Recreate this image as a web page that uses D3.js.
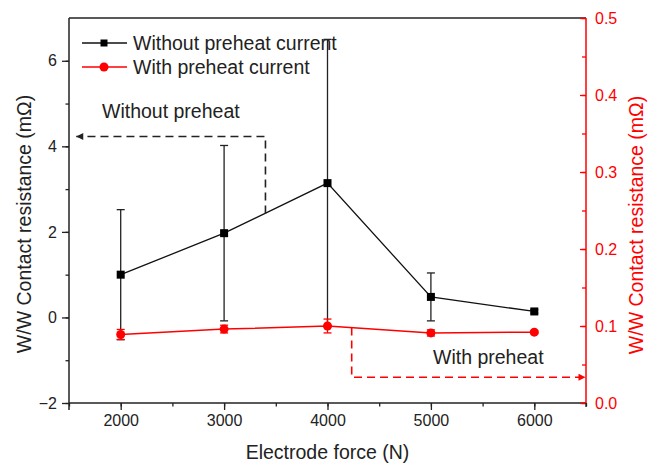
<!DOCTYPE html>
<html>
<head>
<meta charset="utf-8">
<script src="https://cdn.jsdelivr.net/npm/d3@7"></script>
<style>
  html, body { margin: 0; padding: 0; background: #fff; }
  svg { display: block; font-family: "Liberation Sans", Arial, sans-serif; }
</style>
</head>
<body>
<svg id="chart" width="655" height="463"></svg>
<script>
// Electrode force levels (N)
const forces = [2000, 3000, 4000, 5000, 6000];
// W/W contact resistance without preheat current (mΩ, left axis)
const withoutMean = [1.0, 1.97, 3.14, 0.48, 0.14];
const withoutErr  = [1.52, 2.05, 3.36, 0.56, 0.04];
// W/W contact resistance with preheat current (mΩ, right axis)
const withMean = [0.089, 0.096, 0.100, 0.091, 0.092];
const withErr  = [0.0065, 0.005, 0.009, 0.004, 0.002];
// Tick values
const xTicks = [2000, 3000, 4000, 5000, 6000];
const yLeftTicks = [-2, 0, 2, 4, 6];
const yRightTicks = [0.0, 0.1, 0.2, 0.3, 0.4, 0.5];
const seriesNames = ["Without preheat current", "With preheat current"];

const RED = "#ff0000";
const svg = d3.select("#chart");
const L = 69, R = 586, T = 18, B = 403;

const x = d3.scaleLinear().domain([1500, 6500]).range([L, R]);
const yL = d3.scaleLinear().domain([-2, 7]).range([B, T]);
const yR = d3.scaleLinear().domain([0, 0.5]).range([B, T]);

// frame line along the top
svg.append("line").attr("x1", L).attr("x2", R).attr("y1", T).attr("y2", T)
  .attr("stroke", "#222").attr("stroke-width", 1.5);

// bottom axis: major + minor ticks
const gx = svg.append("g").attr("transform", `translate(0,${B})`);
gx.call(d3.axisBottom(x).tickValues(d3.range(1500, 6501, 500)).tickSize(3.5).tickFormat(""))
  .call(g => g.select(".domain").remove())
  .call(g => g.selectAll("line").attr("stroke", "#222").attr("stroke-width", 1.3));
gx.append("g").call(d3.axisBottom(x).tickValues(xTicks).tickSize(7).tickPadding(5).tickFormat(d3.format("d")))
  .call(g => g.select(".domain").remove())
  .call(g => g.selectAll("line").attr("stroke", "#222").attr("stroke-width", 1.3))
  .call(g => g.selectAll("text").attr("font-size", 16).attr("fill", "#222").attr("font-family", "Liberation Sans, Arial, sans-serif"));
svg.append("line").attr("x1", L).attr("x2", R).attr("y1", B).attr("y2", B)
  .attr("stroke", "#222").attr("stroke-width", 1.5);

// left axis
const gl = svg.append("g").attr("transform", `translate(${L},0)`);
gl.call(d3.axisLeft(yL).tickValues(d3.range(-2, 7, 1)).tickSize(3.5).tickFormat(""))
  .call(g => g.select(".domain").remove())
  .call(g => g.selectAll("line").attr("stroke", "#222").attr("stroke-width", 1.3));
gl.append("g").call(d3.axisLeft(yL).tickValues(yLeftTicks).tickSize(7).tickPadding(5).tickFormat(d3.format("d")))
  .call(g => g.select(".domain").remove())
  .call(g => g.selectAll("line").attr("stroke", "#222").attr("stroke-width", 1.3))
  .call(g => g.selectAll("text").attr("font-size", 16).attr("fill", "#222").attr("font-family", "Liberation Sans, Arial, sans-serif"));
svg.append("line").attr("x1", L).attr("x2", L).attr("y1", T).attr("y2", B + 7)
  .attr("stroke", "#222").attr("stroke-width", 1.5);

// right axis (red, ticks pointing inward)
const gr = svg.append("g").attr("transform", `translate(${R},0)`);
gr.call(d3.axisLeft(yR).tickValues(d3.range(0, 0.501, 0.05)).tickSize(4).tickFormat(""))
  .call(g => g.select(".domain").remove())
  .call(g => g.selectAll("line").attr("stroke", RED).attr("stroke-width", 1.3));
gr.append("g").call(d3.axisLeft(yR).tickValues(yRightTicks).tickSize(6).tickFormat(""))
  .call(g => g.select(".domain").remove())
  .call(g => g.selectAll("line").attr("stroke", RED).attr("stroke-width", 1.3));
gr.append("g").call(d3.axisRight(yR).tickValues(yRightTicks).tickSize(0).tickPadding(9).tickFormat(d3.format(".1f")))
  .call(g => g.select(".domain").remove())
  .call(g => g.selectAll("text").attr("font-size", 16).attr("fill", RED).attr("font-family", "Liberation Sans, Arial, sans-serif"));
svg.append("line").attr("x1", R).attr("x2", R).attr("y1", T).attr("y2", B)
  .attr("stroke", RED).attr("stroke-width", 1.5);
// small black tick below the bottom-right corner
svg.append("line").attr("x1", R).attr("x2", R).attr("y1", B).attr("y2", B + 4)
  .attr("stroke", "#222").attr("stroke-width", 1.3);

// axis titles
svg.append("text").attr("x", (L + R) / 2).attr("y", 459).attr("text-anchor", "middle")
  .attr("font-size", 19.5).attr("fill", "#222").text("Electrode force (N)");
svg.append("text").attr("transform", "translate(31,224) rotate(-90)").attr("text-anchor", "middle")
  .attr("font-size", 19.5).attr("fill", "#222").text("W/W Contact resistance (mΩ)");
svg.append("text").attr("transform", "translate(643,225) rotate(-90)").attr("text-anchor", "middle")
  .attr("font-size", 19.5).attr("fill", RED).text("W/W Contact resistance (mΩ)");

// arrowheads
const defs = svg.append("defs");
[["arrBlack", "#222"], ["arrRed", RED]].forEach(([id, c]) => {
  defs.append("marker").attr("id", id).attr("viewBox", "0 0 10 10").attr("refX", 10).attr("refY", 5)
    .attr("markerWidth", 9).attr("markerHeight", 7).attr("markerUnits", "userSpaceOnUse").attr("orient", "auto")
    .append("path").attr("d", "M0,0 L10,5 L0,10 Z").attr("fill", c);
});

// series: without preheat current (black, left axis)
const rows0 = forces.map((f, i) => ({ f, m: withoutMean[i], e: withoutErr[i] }));
const rows1 = forces.map((f, i) => ({ f, m: withMean[i], e: withErr[i] }));

function errorBars(rows, y, color) {
  const g = svg.append("g").attr("stroke", color).attr("stroke-width", 1.3);
  rows.forEach(d => {
    const xx = x(d.f), y1 = y(d.m + d.e), y2 = y(d.m - d.e);
    g.append("line").attr("x1", xx).attr("x2", xx).attr("y1", y1).attr("y2", y2);
    g.append("line").attr("x1", xx - 4).attr("x2", xx + 4).attr("y1", y1).attr("y2", y1);
    g.append("line").attr("x1", xx - 4).attr("x2", xx + 4).attr("y1", y2).attr("y2", y2);
  });
}

errorBars(rows0, yL, "#222");
svg.append("path").datum(rows0)
  .attr("d", d3.line().x(d => x(d.f)).y(d => yL(d.m)))
  .attr("fill", "none").attr("stroke", "#111").attr("stroke-width", 1.3);
svg.selectAll(".sq").data(rows0).join("rect")
  .attr("x", d => x(d.f) - 4).attr("y", d => yL(d.m) - 4).attr("width", 8).attr("height", 8)
  .attr("fill", "#000");

// series: with preheat current (red, right axis)
errorBars(rows1, yR, RED);
svg.append("path").datum(rows1)
  .attr("d", d3.line().x(d => x(d.f)).y(d => yR(d.m)))
  .attr("fill", "none").attr("stroke", RED).attr("stroke-width", 1.5);
svg.selectAll(".ci").data(rows1).join("circle")
  .attr("cx", d => x(d.f)).attr("cy", d => yR(d.m)).attr("r", 4.5)
  .attr("fill", RED);

// dashed callouts linking each curve to its axis
svg.append("path")
  .attr("d", `M${x(3400)},${yL(2.43)} L${x(3400)},${yL(4.23)} L${x(1570)},${yL(4.23)}`)
  .attr("fill", "none").attr("stroke", "#222").attr("stroke-width", 1.6)
  .attr("stroke-dasharray", "8,5").attr("marker-end", "url(#arrBlack)");
svg.append("text").attr("x", 102).attr("y", 118).attr("font-size", 19.5).attr("fill", "#222")
  .text("Without preheat");

svg.append("path")
  .attr("d", `M${x(4234)},${yR(0.098)} L${x(4234)},${yR(0.0335)} L${x(6495)},${yR(0.0335)}`)
  .attr("fill", "none").attr("stroke", RED).attr("stroke-width", 1.6)
  .attr("stroke-dasharray", "8,5").attr("marker-end", "url(#arrRed)");
svg.append("text").attr("x", 433).attr("y", 364).attr("font-size", 19.5).attr("fill", "#222")
  .text("With preheat");

// legend
const legend = svg.append("g");
const legY = [43, 67];
legend.append("line").attr("x1", 82).attr("x2", 127).attr("y1", legY[0]).attr("y2", legY[0])
  .attr("stroke", "#111").attr("stroke-width", 1.3);
legend.append("rect").attr("x", 100.5).attr("y", legY[0] - 3.5).attr("width", 7).attr("height", 7).attr("fill", "#000");
legend.append("line").attr("x1", 82).attr("x2", 127).attr("y1", legY[1]).attr("y2", legY[1])
  .attr("stroke", RED).attr("stroke-width", 1.5);
legend.append("circle").attr("cx", 104).attr("cy", legY[1]).attr("r", 4.5).attr("fill", RED);
legend.selectAll("text").data(seriesNames).join("text")
  .attr("x", 133).attr("y", (d, i) => legY[i] + 7).attr("font-size", 19.5).attr("fill", "#222")
  .text(d => d);
</script>
</body>
</html>
